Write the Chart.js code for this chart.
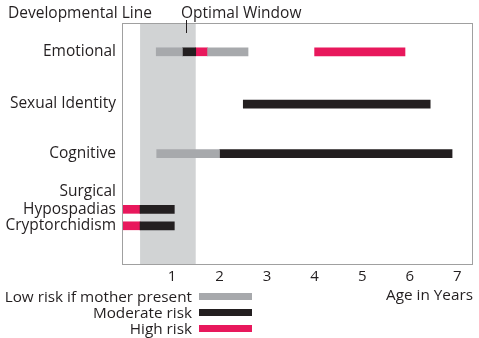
<!DOCTYPE html>
<html><head><meta charset="utf-8">
<script src="https://cdn.jsdelivr.net/npm/chart.js@4"></script>
<style>
html,body{margin:0;padding:0;background:#fff;}
#wrap{position:relative;width:479px;height:338px;font-family:"Open Sans",sans-serif;color:#231f20;overflow:hidden;}
canvas{position:absolute;left:0;top:0;}
.txt{position:absolute;font-size:15.5px;line-height:18px;white-space:nowrap;}
.leg{position:absolute;left:0;width:252px;display:flex;align-items:center;justify-content:flex-end;font-size:15.3px;line-height:16px;white-space:nowrap;}
.sw{display:inline-block;width:53px;height:7px;margin-left:7px;}
</style>
</head><body>
<div id="wrap">
<canvas id="c" width="479" height="338"></canvas>
<div class="txt" style="left:8px;top:3px;">Developmental Line</div>
<div class="txt" style="left:181px;top:3px;">Optimal Window</div>
<div id="legend"></div>
</div>
<script>
// ---- data ----
const categories = ["Emotional", "Sexual Identity", "Cognitive", ["Surgical", "Hypospadias"], "Cryptorchidism"];
const xTickLabels = [1, 2, 3, 4, 5, 6, 7];
const optimalWindow = [0.33, 1.5];   // years
const optimalPointer = 1.29;         // years
const seriesNames = ["Low risk if mother present", "Moderate risk", "High risk"];
// segments: [categoryIndex, fromYear, toYear]
const lowRisk = [[0, 0.67, 1.22], [0, 1.75, 2.6], [2, 0.68, 2.0]];
const moderateRisk = [[0, 1.22, 1.5], [1, 2.5, 6.43], [2, 2.0, 6.89], [3, 0.33, 1.05], [4, 0.33, 1.05]];
const highRisk = [[0, 1.5, 1.75], [0, 4.0, 5.9], [3, -0.05, 0.33], [4, -0.05, 0.33]];

// ---- layout / style ----
const rowPos = [1.19, 3.35, 5.40, 7.70, 8.38];
const lineStep = 0.72;
const colors = ["#a7a9ac", "#231f20", "#e8185c"];
const seriesData = [lowRisk, moderateRisk, highRisk];
const FONT = { family: 'Open Sans', size: 15.5 };

const yTicks = [];
categories.forEach((c, i) => {
  const lines = Array.isArray(c) ? c : [c];
  lines.forEach((t, j) => yTicks.push({ value: rowPos[i] - (lines.length - 1 - j) * lineStep, label: t }));
});

const datasets = seriesData.map((s, k) => ({
  label: seriesNames[k],
  data: s.map(([ci, a, b]) => ({ x: [a, b], y: rowPos[ci] })),
  backgroundColor: colors[k],
  borderWidth: 0,
  barThickness: 8,
  grouped: false
}));

const framePlugin = {
  id: 'frame',
  beforeDatasetsDraw(chart) {
    const { ctx, chartArea: a, scales: { x } } = chart;
    const x0 = x.getPixelForValue(optimalWindow[0]);
    const x1 = x.getPixelForValue(optimalWindow[1]);
    ctx.save();
    ctx.fillStyle = '#d1d3d4';
    ctx.fillRect(x0, a.top, x1 - x0, a.bottom - a.top);
    ctx.restore();
  },
  afterDatasetsDraw(chart) {
    const { ctx, chartArea: a, scales: { x } } = chart;
    ctx.save();
    ctx.strokeStyle = '#a0a0a0';
    ctx.lineWidth = 1;
    ctx.strokeRect(Math.round(a.left) + 0.5, Math.round(a.top) + 0.5, Math.round(a.right - a.left) - 1, Math.round(a.bottom - a.top) - 1);
    const px = Math.round(x.getPixelForValue(optimalPointer)) + 0.5;
    ctx.strokeStyle = '#231f20';
    ctx.beginPath();
    ctx.moveTo(px, a.top - 3);
    ctx.lineTo(px, a.top + 10);
    ctx.stroke();
    ctx.restore();
  }
};

new Chart(document.getElementById('c'), {
  type: 'bar',
  data: { datasets },
  options: {
    responsive: false,
    animation: false,
    indexAxis: 'y',
    layout: { padding: { top: 23, right: 6, left: 0, bottom: 0 } },
    plugins: { legend: { display: false }, tooltip: { enabled: false } },
    scales: {
      x: {
        type: 'linear', min: -0.05, max: 7.33, offset: false,
        grid: { display: false, drawTicks: false },
        border: { display: false },
        afterBuildTicks(s) { s.ticks = xTickLabels.map(v => ({ value: v })); },
        ticks: { padding: 3, color: '#231f20', font: { family: 'Open Sans', size: 15 }, maxRotation: 0, autoSkip: false },
        title: { display: true, text: 'Age in Years', align: 'end', color: '#231f20', font: { family: 'Open Sans', size: 15.3 }, padding: { top: 0, bottom: 33 } },
        afterFit(s) { s.height = 73; }
      },
      y: {
        type: 'linear', min: 0, max: 10, reverse: true, offset: false,
        grid: { display: false, drawTicks: false },
        border: { display: false },
        afterBuildTicks(s) { s.ticks = yTicks.map(t => ({ value: t.value })); },
        ticks: {
          padding: 6, color: '#231f20', font: FONT, autoSkip: false,
          callback: (v, i) => yTicks[i].label
        },
        afterFit(s) { s.width = 122; }
      }
    }
  },
  plugins: [framePlugin]
});

// HTML legend
const leg = document.getElementById('legend');
const legTops = [288, 304, 320];
seriesNames.forEach((n, k) => {
  const d = document.createElement('div');
  d.className = 'leg';
  d.style.top = legTops[k] + 'px';
  d.innerHTML = '<span>' + n + '</span><span class="sw" style="background:' + colors[k] + '"></span>';
  leg.appendChild(d);
});
</script>
</body></html>
